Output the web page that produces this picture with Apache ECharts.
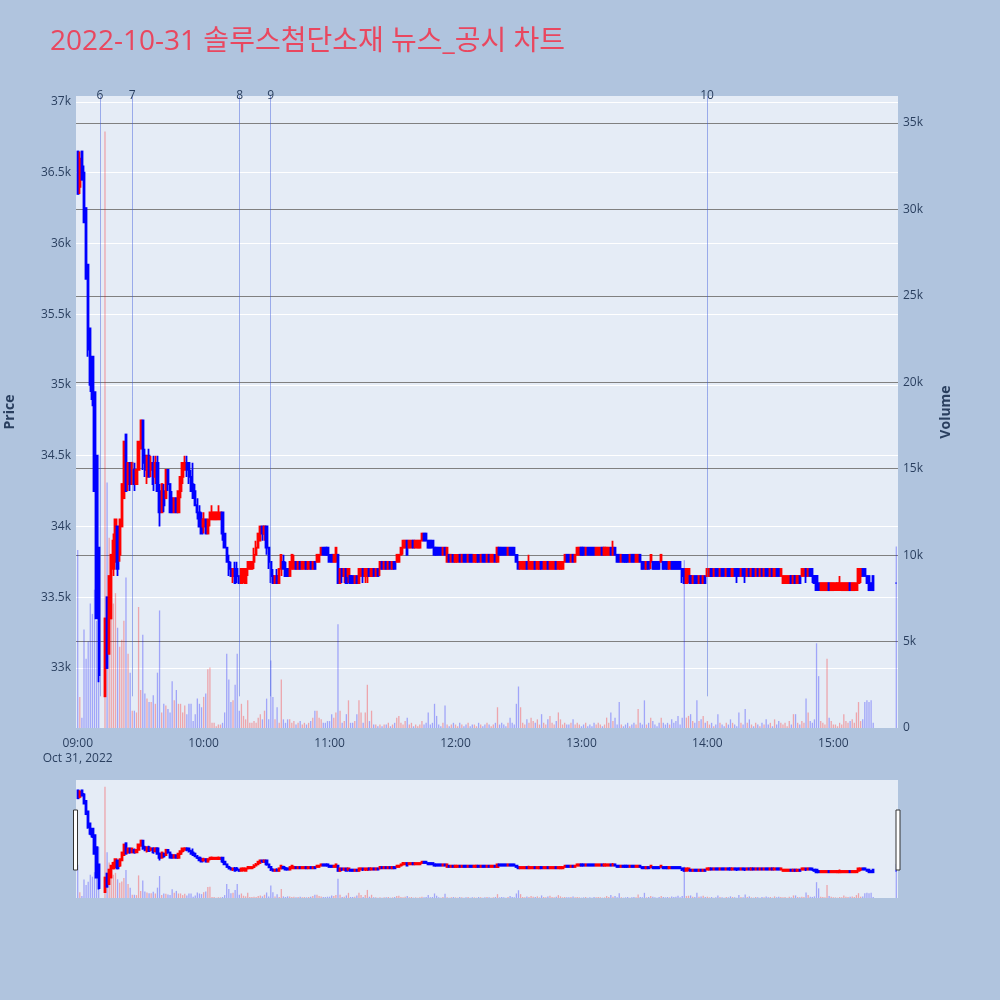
<!DOCTYPE html>
<html><head><meta charset="utf-8">
<script src="https://cdn.jsdelivr.net/npm/echarts@6/dist/echarts.min.js"></script>
<style>html,body{margin:0;padding:0;background:#b0c4de;}#c{width:1000px;height:1000px;}</style>
</head><body><div id="c"></div>
<script>
const titleText = '2022-10-31 솔루스첨단소재 뉴스_공시 차트';
const dateLabel = 'Oct 31, 2022';
const tradeDay = [2022, 9, 31];

const times = [
'09:00','09:01','09:02','09:03','09:04','09:05','09:06','09:07','09:08','09:09','09:10',
'09:13','09:14','09:15','09:16','09:17','09:18','09:19',
'09:20','09:21','09:22','09:23','09:24','09:25','09:26','09:27','09:28','09:29',
'09:30','09:31','09:32','09:33','09:34','09:35','09:36','09:37','09:38','09:39',
'09:40','09:41','09:42','09:43','09:44','09:45','09:46','09:47','09:48','09:49',
'09:50','09:51','09:52','09:53','09:54','09:55','09:56','09:57','09:58','09:59',
'10:00','10:01','10:02','10:03','10:04','10:05','10:06','10:07','10:08','10:09',
'10:10','10:11','10:12','10:13','10:14','10:15','10:16','10:17','10:18','10:19',
'10:20','10:21','10:22','10:23','10:24','10:25','10:26','10:27','10:28','10:29',
'10:30','10:31','10:32','10:33','10:34','10:35','10:36','10:37','10:38','10:39',
'10:40','10:41','10:42','10:43','10:44','10:45','10:46','10:47','10:48','10:49',
'10:50','10:51','10:52','10:53','10:54','10:55','10:56','10:57','10:58','10:59',
'11:00','11:01','11:02','11:03','11:04','11:05','11:06','11:07','11:08','11:09',
'11:10','11:11','11:12','11:13','11:14','11:15','11:16','11:17','11:18','11:19',
'11:20','11:21','11:22','11:23','11:24','11:25','11:26','11:27','11:28','11:29',
'11:30','11:31','11:32','11:33','11:34','11:35','11:36','11:37','11:38','11:39',
'11:40','11:41','11:42','11:43','11:44','11:45','11:46','11:47','11:48','11:49',
'11:50','11:51','11:52','11:53','11:54','11:55','11:56','11:57','11:58','11:59',
'12:00','12:01','12:02','12:03','12:04','12:05','12:06','12:07','12:08','12:09',
'12:10','12:11','12:12','12:13','12:14','12:15','12:16','12:17','12:18','12:19',
'12:20','12:21','12:22','12:23','12:24','12:25','12:26','12:27','12:28','12:29',
'12:30','12:31','12:32','12:33','12:34','12:35','12:36','12:37','12:38','12:39',
'12:40','12:41','12:42','12:43','12:44','12:45','12:46','12:47','12:48','12:49',
'12:50','12:51','12:52','12:53','12:54','12:55','12:56','12:57','12:58','12:59',
'13:00','13:01','13:02','13:03','13:04','13:05','13:06','13:07','13:08','13:09',
'13:10','13:11','13:12','13:13','13:14','13:15','13:16','13:17','13:18','13:19',
'13:20','13:21','13:22','13:23','13:24','13:25','13:26','13:27','13:28','13:29',
'13:30','13:31','13:32','13:33','13:34','13:35','13:36','13:37','13:38','13:39',
'13:40','13:41','13:42','13:43','13:44','13:45','13:46','13:47','13:48','13:49',
'13:50','13:51','13:52','13:53','13:54','13:55','13:56','13:57','13:58','13:59',
'14:00','14:01','14:02','14:03','14:04','14:05','14:06','14:07','14:08','14:09',
'14:10','14:11','14:12','14:13','14:14','14:15','14:16','14:17','14:18','14:19',
'14:20','14:21','14:22','14:23','14:24','14:25','14:26','14:27','14:28','14:29',
'14:30','14:31','14:32','14:33','14:34','14:35','14:36','14:37','14:38','14:39',
'14:40','14:41','14:42','14:43','14:44','14:45','14:46','14:47','14:48','14:49',
'14:50','14:51','14:52','14:53','14:54','14:55','14:56','14:57','14:58','14:59',
'15:00','15:01','15:02','15:03','15:04','15:05','15:06','15:07','15:08','15:09',
'15:10','15:11','15:12','15:13','15:14','15:15','15:16','15:17','15:18','15:19',
'15:30'
];

// [open, close, low, high]
const ohlc = [
[36650,36350,36350,36650],[36400,36600,36350,36650],[36650,36450,36450,36650],[36500,36150,36150,36550],[36250,35750,35750,36250],[35850,35250,35200,35850],[35400,35000,34950,35400],[35200,34900,34850,35200],[34950,34250,34250,34950],[34500,33350,33350,34500],[33850,32950,32900,33850],
[32800,33350,32800,33350],[33500,33000,33000,33500],[33100,33650,33100,33650],[33350,33800,33350,33800],[33700,33900,33650,33950],[33750,34050,33750,34050],[34000,33700,33650,34000],
[33800,34050,33750,34050],[34000,34300,34000,34300],[34200,34600,34200,34600],[34650,34250,34250,34650],[34300,34450,34250,34450],[34450,34300,34250,34450],[34300,34450,34300,34450],[34400,34300,34250,34450],[34300,34400,34300,34400],[34400,34600,34400,34600],
[34550,34750,34550,34750],[34750,34450,34400,34750],[34500,34400,34350,34550],[34350,34500,34300,34500],[34500,34350,34350,34550],[34400,34450,34350,34500],[34450,34300,34250,34500],[34350,34450,34300,34500],[34450,34250,34250,34500],[34250,34100,34000,34300],
[34100,34300,34100,34300],[34250,34150,34100,34300],[34200,34400,34200,34400],[34400,34300,34250,34400],[34300,34100,34100,34300],[34200,34100,34100,34250],[34100,34200,34100,34200],[34200,34100,34100,34200],[34100,34250,34100,34250],[34250,34350,34200,34350],
[34350,34450,34300,34450],[34400,34450,34400,34500],[34450,34400,34350,34500],[34450,34350,34300,34450],[34350,34250,34250,34400],[34300,34200,34200,34450],[34250,34150,34150,34300],[34150,34100,34050,34200],[34100,34000,34000,34150],[34050,33950,33950,34100],
[34000,34050,33950,34100],[34050,33950,33950,34050],[33950,34050,33950,34050],[34050,34100,34000,34100],[34050,34100,34050,34150],[34050,34100,34050,34100],[34050,34100,34050,34100],[34050,34100,34050,34150],[34050,34100,34050,34100],[34100,33950,33900,34100],
[33950,33850,33850,33950],[33850,33750,33750,33850],[33750,33700,33650,33800],[33700,33650,33650,33750],[33650,33700,33600,33700],[33700,33600,33600,33750],[33700,33650,33600,33750],[33650,33600,33600,33650],[33600,33700,33600,33700],[33650,33700,33600,33700],
[33600,33700,33600,33700],[33700,33750,33650,33750],[33700,33750,33700,33750],[33700,33750,33700,33750],[33750,33800,33700,33850],[33800,33850,33800,33900],[33850,33950,33850,33950],[33900,34000,33900,34000],[34000,33950,33900,34000],[33950,34000,33900,34000],
[34000,33850,33800,34000],[33850,33750,33700,33850],[33750,33650,33600,33750],[33650,33600,33600,33700],[33600,33650,33600,33650],[33650,33600,33600,33700],[33600,33700,33600,33700],[33700,33800,33650,33800],[33750,33700,33700,33800],[33700,33650,33650,33750],
[33700,33650,33650,33700],[33650,33750,33650,33750],[33700,33800,33700,33800],[33700,33750,33700,33800],[33750,33700,33700,33750],[33700,33750,33700,33750],[33750,33700,33700,33750],[33700,33750,33700,33750],[33700,33750,33700,33750],[33750,33700,33700,33750],
[33700,33750,33700,33750],[33750,33700,33700,33750],[33700,33750,33700,33750],[33750,33700,33700,33750],[33750,33800,33750,33800],[33750,33800,33750,33800],[33800,33850,33800,33850],[33850,33800,33800,33850],[33850,33800,33800,33850],[33850,33800,33800,33850],
[33800,33750,33750,33800],[33800,33750,33750,33800],[33750,33800,33750,33800],[33750,33850,33750,33850],[33800,33600,33600,33800],[33600,33700,33600,33700],[33700,33650,33600,33700],[33650,33700,33600,33700],[33700,33600,33600,33700],[33650,33700,33600,33700],
[33650,33600,33600,33650],[33650,33600,33600,33650],[33600,33650,33600,33650],[33650,33600,33600,33650],[33600,33700,33600,33700],[33650,33700,33650,33700],[33700,33650,33600,33700],[33650,33700,33600,33700],[33650,33700,33600,33700],[33700,33650,33650,33700],
[33650,33700,33650,33700],[33700,33650,33650,33700],[33650,33700,33650,33700],[33700,33650,33650,33700],[33700,33750,33650,33750],[33750,33700,33700,33750],[33700,33750,33700,33750],[33750,33700,33700,33750],[33700,33750,33700,33750],[33750,33700,33700,33750],
[33700,33750,33700,33750],[33750,33700,33700,33750],[33750,33800,33750,33800],[33750,33800,33750,33800],[33800,33850,33800,33850],[33850,33900,33800,33900],[33850,33900,33850,33900],[33900,33800,33800,33900],[33850,33900,33850,33900],[33850,33900,33850,33900],
[33900,33850,33850,33900],[33850,33900,33850,33900],[33850,33900,33850,33900],[33850,33900,33850,33900],[33900,33950,33900,33950],[33950,33900,33900,33950],[33950,33900,33900,33950],[33900,33850,33850,33900],[33900,33850,33850,33900],[33900,33850,33850,33900],
[33850,33800,33800,33850],[33850,33800,33800,33850],[33850,33800,33800,33850],[33850,33800,33800,33850],[33800,33850,33800,33850],[33850,33800,33800,33850],[33750,33850,33750,33850],[33800,33750,33750,33800],[33750,33800,33750,33800],[33800,33750,33750,33800],
[33750,33800,33750,33800],[33750,33800,33750,33800],[33800,33750,33750,33800],[33750,33800,33750,33800],[33800,33750,33750,33800],[33800,33750,33750,33800],[33750,33800,33750,33800],[33800,33750,33750,33800],[33800,33750,33750,33800],[33750,33800,33750,33800],
[33750,33800,33750,33800],[33800,33750,33750,33800],[33750,33800,33750,33800],[33800,33750,33750,33800],[33800,33750,33750,33800],[33750,33800,33750,33800],[33800,33750,33750,33800],[33750,33800,33750,33800],[33750,33800,33750,33800],[33800,33750,33750,33800],
[33750,33850,33750,33850],[33850,33800,33800,33850],[33850,33800,33800,33850],[33850,33800,33800,33850],[33850,33800,33800,33850],[33800,33850,33800,33850],[33850,33800,33800,33850],[33850,33800,33800,33850],[33850,33800,33800,33850],[33800,33750,33750,33800],
[33750,33700,33700,33750],[33700,33750,33700,33750],[33700,33750,33700,33750],[33700,33750,33700,33750],[33750,33700,33700,33750],[33700,33750,33700,33800],[33700,33750,33700,33750],[33700,33750,33700,33750],[33750,33700,33700,33750],[33700,33750,33700,33750],
[33700,33750,33700,33750],[33750,33700,33700,33750],[33700,33750,33700,33750],[33700,33750,33700,33750],[33750,33700,33700,33750],[33700,33750,33700,33750],[33700,33750,33700,33750],[33700,33750,33700,33750],[33750,33700,33700,33750],[33700,33750,33700,33750],
[33700,33750,33700,33750],[33700,33750,33700,33750],[33750,33800,33750,33800],[33800,33750,33750,33800],[33800,33750,33750,33800],[33750,33800,33750,33800],[33800,33750,33750,33800],[33750,33800,33750,33800],[33800,33850,33800,33850],[33800,33850,33800,33850],
[33850,33800,33800,33850],[33850,33800,33800,33850],[33800,33850,33800,33850],[33850,33800,33800,33850],[33850,33800,33800,33850],[33850,33800,33800,33850],[33850,33800,33800,33850],[33800,33850,33800,33850],[33800,33850,33800,33850],[33800,33850,33800,33850],
[33850,33800,33800,33850],[33800,33850,33800,33850],[33800,33850,33800,33850],[33800,33850,33800,33850],[33850,33800,33800,33850],[33800,33850,33800,33900],[33850,33800,33800,33850],[33800,33750,33750,33800],[33800,33750,33750,33800],[33750,33800,33750,33800],
[33800,33750,33750,33800],[33800,33750,33750,33800],[33800,33750,33750,33800],[33750,33800,33750,33800],[33800,33750,33750,33800],[33800,33750,33750,33800],[33750,33800,33750,33800],[33750,33800,33750,33800],[33800,33750,33750,33800],[33750,33700,33700,33750],
[33750,33700,33700,33750],[33700,33750,33700,33750],[33750,33700,33700,33750],[33750,33800,33700,33800],[33750,33700,33700,33750],[33750,33700,33700,33750],[33750,33700,33700,33750],[33750,33700,33700,33750],[33750,33800,33750,33800],[33750,33700,33700,33750],
[33750,33700,33700,33750],[33750,33700,33700,33750],[33700,33750,33700,33750],[33750,33700,33700,33750],[33750,33700,33700,33750],[33750,33700,33700,33750],[33750,33700,33700,33750],[33750,33700,33700,33750],[33700,33650,33600,33700],[33700,33600,33600,33700],
[33600,33700,33600,33700],[33650,33700,33600,33700],[33650,33600,33600,33650],[33600,33650,33600,33650],[33650,33600,33600,33650],[33650,33600,33600,33650],[33600,33650,33600,33650],[33650,33600,33600,33650],[33600,33650,33600,33650],[33650,33600,33600,33650],
[33650,33700,33650,33700],[33650,33700,33650,33700],[33700,33650,33650,33700],[33650,33700,33650,33700],[33700,33650,33650,33700],[33700,33650,33650,33700],[33650,33700,33650,33700],[33700,33650,33650,33700],[33700,33650,33650,33700],[33650,33700,33650,33700],
[33700,33650,33650,33700],[33700,33650,33650,33700],[33650,33700,33650,33700],[33700,33650,33650,33700],[33700,33650,33600,33700],[33700,33650,33650,33700],[33650,33700,33650,33700],[33700,33650,33650,33700],[33700,33650,33600,33700],[33650,33700,33650,33700],
[33700,33650,33650,33700],[33650,33700,33650,33700],[33700,33650,33650,33700],[33650,33700,33650,33700],[33700,33650,33650,33700],[33650,33700,33650,33700],[33700,33650,33650,33700],[33650,33700,33650,33700],[33700,33650,33650,33700],[33700,33650,33650,33700],
[33650,33700,33650,33700],[33700,33650,33650,33700],[33650,33700,33650,33700],[33700,33650,33650,33700],[33700,33650,33650,33700],[33650,33700,33650,33700],[33600,33650,33600,33650],[33600,33650,33600,33650],[33600,33650,33600,33650],[33600,33650,33600,33650],
[33650,33600,33600,33650],[33600,33650,33600,33650],[33650,33600,33600,33650],[33600,33650,33600,33650],[33650,33600,33600,33650],[33650,33700,33650,33700],[33650,33700,33650,33700],[33700,33650,33600,33700],[33650,33700,33650,33700],[33700,33650,33650,33700],
[33700,33650,33600,33700],[33650,33600,33600,33650],[33650,33550,33550,33650],[33600,33550,33550,33600],[33550,33600,33550,33600],[33550,33600,33550,33600],[33550,33600,33550,33600],[33550,33600,33550,33600],[33600,33550,33550,33600],[33550,33600,33550,33600],
[33550,33600,33550,33600],[33550,33600,33550,33600],[33550,33600,33550,33600],[33550,33600,33550,33650],[33550,33600,33550,33600],[33550,33600,33550,33600],[33550,33600,33550,33600],[33550,33600,33550,33600],[33600,33550,33550,33600],[33550,33600,33550,33600],
[33550,33600,33550,33600],[33550,33600,33550,33600],[33600,33700,33600,33700],[33650,33700,33600,33700],[33700,33650,33650,33700],[33700,33650,33650,33700],[33650,33600,33600,33650],[33650,33550,33550,33650],[33600,33550,33550,33600],[33650,33550,33550,33650],
[33600,33600,33600,33600]
];

const volumes = [
10300,1800,600,5700,4000,5000,7200,6600,8000,6200,15800,
34500,14200,11000,8700,7200,7800,5800,
4700,5100,6200,8700,4300,3200,1000,1000,900,7000,
2200,5400,2000,1700,1500,1500,1900,1400,3200,6800,
900,1400,1300,1100,900,2700,1600,2200,1400,1400,
900,1300,800,1400,1400,400,800,1700,1400,1200,
1800,2000,3400,3500,300,300,100,200,200,300,
900,4300,2800,1500,1600,2500,4300,1000,1400,700,
500,1600,300,300,400,300,600,800,500,1000,
1700,500,3900,1800,500,1200,300,2800,500,300,
500,500,300,400,200,300,400,200,300,200,
300,400,600,1000,1000,600,500,300,300,400,
400,800,600,900,6000,1000,300,400,800,1600,
300,300,400,800,1600,900,300,900,2500,400,
1000,200,200,100,200,100,200,200,300,100,
200,300,600,700,300,200,400,600,200,300,
100,200,100,200,400,200,300,900,200,300,
1400,700,200,100,300,1300,200,100,200,300,
200,100,300,200,100,200,300,100,200,200,
100,300,200,100,200,300,200,100,200,300,
1200,200,300,200,100,300,600,300,200,1400,
2400,1200,300,200,500,300,600,400,300,500,
200,800,300,200,500,700,300,200,400,900,
500,200,300,200,200,300,500,200,300,200,
100,200,300,100,200,100,300,200,300,200,
100,200,600,300,900,400,600,200,1500,200,
100,200,300,100,200,300,200,1100,300,200,
1600,200,300,600,400,200,100,300,600,300,
200,300,200,500,300,400,700,200,600,9700,
600,700,800,400,300,1600,400,500,700,300,
400,200,300,100,200,800,300,200,100,300,
200,500,300,200,100,900,300,200,1100,300,
500,200,100,300,200,100,300,200,500,200,
300,100,500,200,400,300,200,300,100,400,
200,800,800,300,200,400,300,1700,900,400,
300,500,4900,3000,400,300,200,4000,600,400,
200,200,100,300,200,800,400,300,400,500,
300,900,1500,400,500,1500,1600,1500,1600,300,
10500
];

const eventTimes = ['09:10:36','09:26:00','10:17:10','10:31:55','13:59:50'];
const eventLabels = ['6','7','8','9','10'];

const priceRange = [32576, 37042];
const volumeRange = [0, 36560];
const xRange = ['08:59:30', '15:30:30'];

function ts(s) {
  const p = s.split(':').map(Number);
  return new Date(tradeDay[0], tradeDay[1], tradeDay[2], p[0], p[1], p[2] || 0).getTime();
}

const UP = '#ff0000', DOWN = '#0000ff';
const UPV = 'rgba(255,0,0,0.3)', DOWNV = 'rgba(0,0,255,0.3)';
const FONT = "'Open Sans', 'Noto Sans CJK KR', sans-serif";
const TXT = '#2a3f5f';

const candleData = times.map((t, i) => [ts(t), ohlc[i][0], ohlc[i][1], ohlc[i][2], ohlc[i][3]]);
const volData = times.map((t, i) => ({
  value: [ts(t), volumes[i]],
  itemStyle: { color: ohlc[i][1] > ohlc[i][0] ? UPV : DOWNV }
}));
const dayLow = Math.min.apply(null, ohlc.map(r => r[2]));

const candleStyle = {
  color: UP, color0: DOWN, borderColor: UP, borderColor0: DOWN,
  borderColorDoji: DOWN, borderWidth: 1.8
};

const chart = echarts.init(document.getElementById('c'), null, { renderer: 'canvas' });
chart.setOption({
  animation: false,
  backgroundColor: '#b0c4de',
  textStyle: { fontFamily: FONT },
  title: {
    text: titleText, left: 45, top: 23,
    textStyle: { color: '#e9475f', fontSize: 28, fontWeight: 'normal', fontFamily: FONT }
  },
  grid: [
    { left: 76, top: 96, width: 822, height: 632, show: true, backgroundColor: '#e5ecf6', borderWidth: 0, outerBoundsMode: 'none' },
    { left: 76, top: 780, width: 822, height: 118, show: true, backgroundColor: '#e5ecf6', borderWidth: 0, outerBoundsMode: 'none' }
  ],
  xAxis: [
    {
      type: 'time', gridIndex: 0, min: ts(xRange[0]), max: ts(xRange[1]),
      minInterval: 3600000, maxInterval: 3600000, splitNumber: 7,
      axisLine: { show: false }, axisTick: { show: false }, splitLine: { show: false },
      axisLabel: {
        color: TXT, fontSize: 12, fontFamily: FONT, margin: 8, lineHeight: 15,
        showMinLabel: true, showMaxLabel: true, hideOverlap: false,
        formatter: function (v) {
          const d = new Date(v);
          if (d.getMinutes() !== 0 || d.getSeconds() !== 0) return '';
          const hh = String(d.getHours()).padStart(2, '0') + ':00';
          return d.getHours() === 9 ? hh + '\n' + dateLabel : hh;
        }
      }
    },
    {
      type: 'time', gridIndex: 1, min: ts(xRange[0]), max: ts(xRange[1]), show: false,
      splitLine: { show: false }
    }
  ],
  yAxis: [
    {
      type: 'value', gridIndex: 0, position: 'left', min: priceRange[0], max: priceRange[1], splitNumber: 9,
      name: 'Price', nameLocation: 'middle', nameGap: 59,
      nameTextStyle: { color: TXT, fontSize: 14, fontWeight: 'bold', fontFamily: FONT },
      axisLine: { show: false }, axisTick: { show: false },
      splitLine: { show: true, showMinLine: false, showMaxLine: false, lineStyle: { color: '#ffffff', width: 1 } },
      axisLabel: {
        color: TXT, fontSize: 12, fontFamily: FONT, margin: 5,
        formatter: function (v) { return v % 500 === 0 ? (v / 1000) + 'k' : ''; }
      }
    },
    {
      type: 'value', gridIndex: 0, position: 'right', min: volumeRange[0], max: volumeRange[1], splitNumber: 7,
      name: 'Volume', nameLocation: 'middle', nameGap: 41,
      nameTextStyle: { color: TXT, fontSize: 14, fontWeight: 'bold', fontFamily: FONT },
      axisLine: { show: false }, axisTick: { show: false },
      splitLine: { show: true, showMinLine: false, showMaxLine: false, lineStyle: { color: '#808080', width: 1 } },
      axisLabel: {
        color: TXT, fontSize: 12, fontFamily: FONT, margin: 5,
        formatter: function (v) { return v % 5000 === 0 ? (v === 0 ? '0' : (v / 1000) + 'k') : ''; }
      }
    },
    { type: 'value', gridIndex: 1, min: priceRange[0], max: priceRange[1], show: false, splitLine: { show: false } },
    { type: 'value', gridIndex: 1, min: volumeRange[0], max: volumeRange[1], show: false, splitLine: { show: false } }
  ],
  series: [
    {
      type: 'bar', xAxisIndex: 0, yAxisIndex: 1, data: volData, barWidth: 1.3, z: 2,
      large: false, silent: true
    },
    {
      type: 'candlestick', xAxisIndex: 0, yAxisIndex: 0, data: candleData, barWidth: 1.8, z: 3,
      itemStyle: candleStyle, large: false, progressive: 0, silent: true,
      markLine: {
        silent: true, symbol: ['none', 'none'], z: 6, animation: false,
        lineStyle: { color: 'rgba(60,90,220,0.45)', width: 1, type: 'solid' },
        label: {
          show: true, position: 'end', distance: 0, verticalAlign: 'middle',
          color: TXT, fontSize: 12, fontFamily: FONT,
          formatter: function (p) { return p.name; }
        },
        emphasis: { disabled: true },
        data: eventTimes.map((t, i) => [
          { coord: [ts(t), dayLow], name: eventLabels[i] },
          { coord: [ts(t), priceRange[1]] }
        ])
      }
    },
    {
      type: 'bar', xAxisIndex: 1, yAxisIndex: 3, data: volData, barWidth: 1.3, z: 2,
      large: false, silent: true
    },
    {
      type: 'candlestick', xAxisIndex: 1, yAxisIndex: 2, data: candleData, barWidth: 1.8, z: 3,
      itemStyle: candleStyle, large: false, progressive: 0, silent: true
    }
  ],
  graphic: [
    { type: 'rect', shape: { x: 73.5, y: 810, width: 4, height: 60 }, style: { fill: '#ffffff', stroke: '#333333', lineWidth: 1 }, z: 100 },
    { type: 'rect', shape: { x: 896, y: 810, width: 4, height: 60 }, style: { fill: '#ffffff', stroke: '#333333', lineWidth: 1 }, z: 100 }
  ]
});
</script>
</body></html>
